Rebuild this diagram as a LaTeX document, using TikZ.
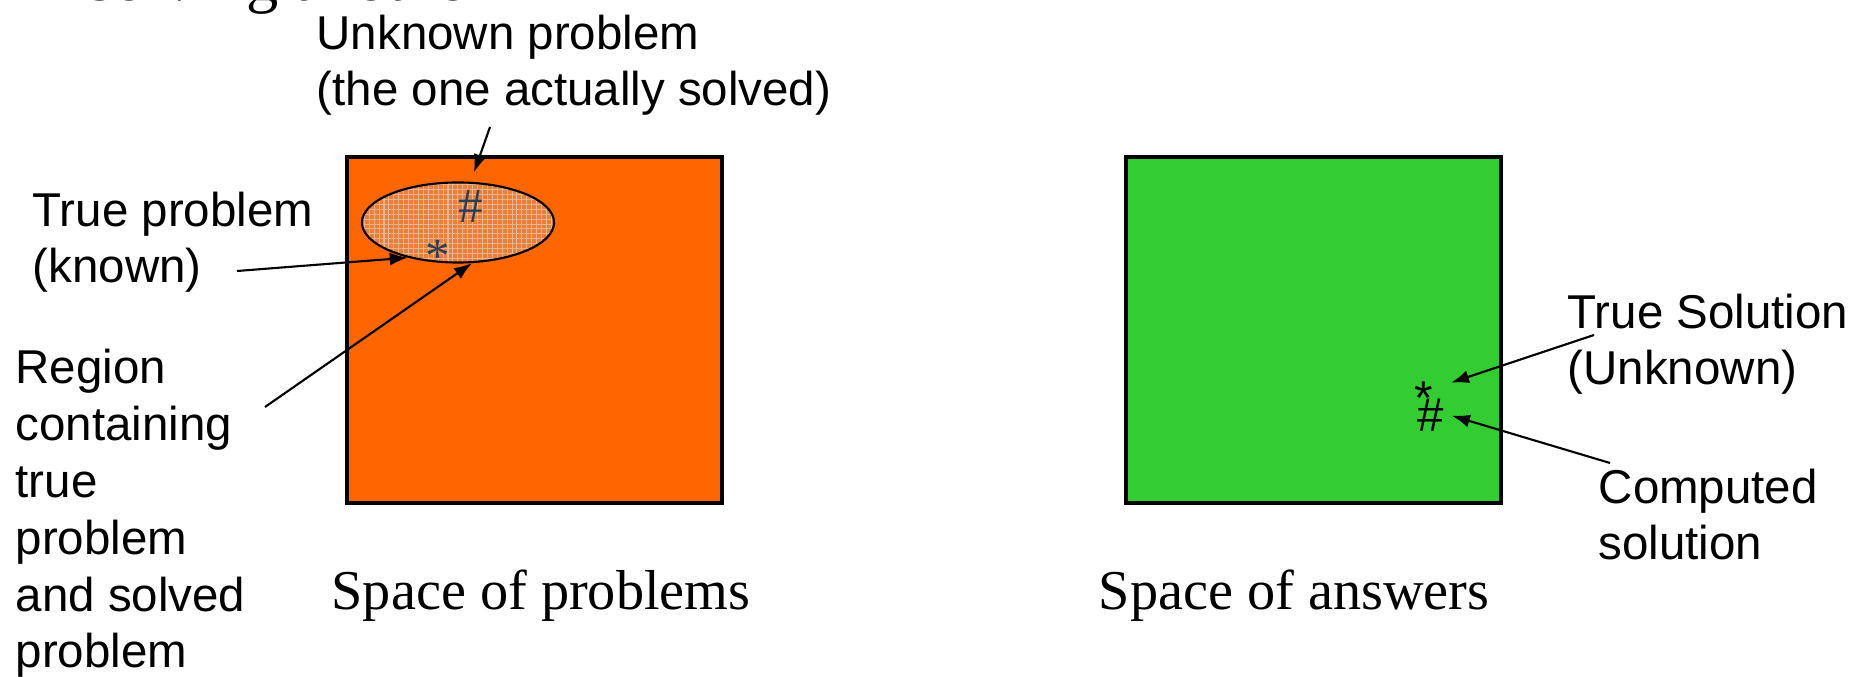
\documentclass[tikz,border=0pt]{standalone}
\usepackage{fontspec}
\setmainfont{Liberation Serif}
\newfontfamily\arialfont{Liberation Sans}
\usepackage{xcolor}
\usetikzlibrary{arrows.meta,patterns.meta,shapes.geometric}
\definecolor{probcol}{RGB}{255,102,0}
\definecolor{anscol}{RGB}{51,204,51}
\definecolor{ellcol}{RGB}{238,125,55}
\definecolor{gridcol}{RGB}{228,182,145}
\definecolor{hashcol}{RGB}{45,62,80}

\begin{document}
\begin{tikzpicture}[x=0.01cm,y=-0.01cm,
	lbl/.style={font=\arialfont\fontsize{13.5}{16.2}\selectfont,align=left,inner sep=0pt,anchor=base west},
	capt/.style={font=\fontsize{16}{19}\selectfont,inner sep=0pt,anchor=base west},
	spacebox/.style={draw,line width=1.1pt,minimum width=3.75cm,minimum height=3.46cm,inner sep=0pt},
	markch/.style={inner sep=0pt,anchor=base},
	arr/.style={-{Latex[length=0.18cm,width=0.13cm]},line width=0.6pt}]
	\useasboundingbox(0,0)rectangle(1870,677);
	\node(title)at(88,1)[capt,font=\fontsize{18.3}{22}\selectfont]{solving another};
	% the two spaces
	\node(probs)at(534.5,330)[spacebox,fill=probcol]{};
	\node(answs)at(1313.5,330)[spacebox,fill=anscol]{};
	\node(reg)at(458,222.5)[ellipse,line width=0.6pt,minimum width=1.92cm,minimum height=0.8cm,inner sep=0pt,fill=ellcol,
		postaction={pattern={Lines[distance=1.4pt,angle=0,line width=0.3pt]},pattern color=gridcol},
		postaction={pattern={Lines[distance=1.4pt,angle=90,line width=0.3pt]},pattern color=gridcol},
		postaction={draw}]{};
	\node(phash)at(471,223)[markch,font=\fontsize{14}{14}\selectfont,text=hashcol]{\#};
	\node(pstar)at(438,273)[markch,font=\fontsize{14}{14}\selectfont,text=hashcol]{*};
	\node(gstar)at(1424,415)[markch,font=\arialfont\fontsize{13.5}{14}\selectfont]{*};
	\node(ghash)at(1431,432)[markch,font=\arialfont\fontsize{13.5}{14}\selectfont]{\#};
	% labels (placed at the baseline of their last line)
	\node(unk)at(316,106)[lbl]{Unknown problem\\(the one actually solved)};
	\node(tp)at(32,283)[lbl]{True problem\\(known)};
	\node(rg)at(15,668)[lbl]{Region\\containing\\true\\problem\\and solved\\problem};
	\node(ts)at(1567,385)[lbl]{True Solution\\(Unknown)};
	\node(cs)at(1598,560)[lbl]{Computed\\solution};
	\node(capp)at(331,610)[capt]{Space of problems};
	\node(capa)at(1098,610)[capt]{Space of answers};
	% arrows
	\coordinate(unkfrom)at(490,127);
	\coordinate(tpfrom)at(237,271);
	\coordinate(rgfrom)at(265,407);
	\coordinate(tsfrom)at(1594,335);
	\coordinate(csfrom)at(1610,463);
	\draw[arr](unkfrom)--([xshift=0.16cm,yshift=0.09cm]reg.north);
	\draw[arr](tpfrom)--(reg.215);
	\draw[arr](rgfrom)--(reg.289);
	\draw[arr](tsfrom)--([xshift=0.27cm,yshift=0.16cm]gstar.center);
	\draw[arr](csfrom)--([xshift=0.07cm]ghash.east);
\end{tikzpicture}
\end{document}
